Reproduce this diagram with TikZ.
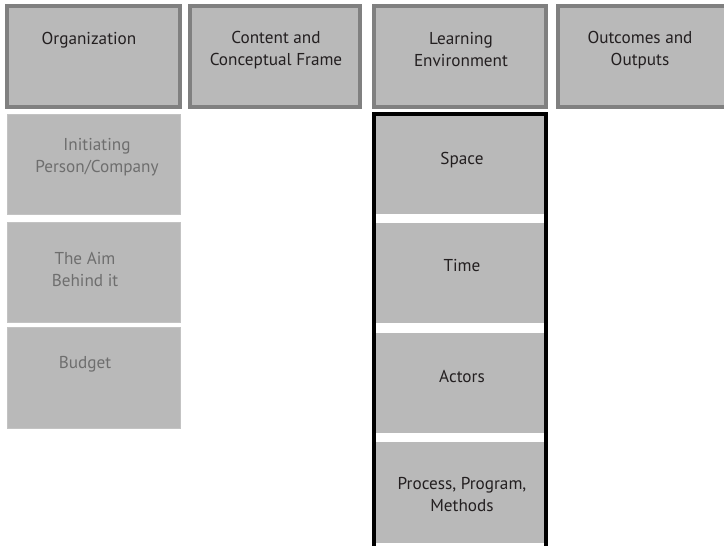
\documentclass[tikz,border=0pt]{standalone}
\usepackage{fontspec}
\setmainfont{PT Sans}
\definecolor{boxfill}{HTML}{B9B9B9}
\definecolor{boxedge}{HTML}{808080}
\definecolor{darktext}{HTML}{231F20}
\definecolor{lighttext}{HTML}{6E6E6E}
\tikzset{
  headbox/.style={fill=boxfill, draw=boxedge, line width=4pt},
  subbox/.style={fill=boxfill, draw=boxfill!85!white, line width=0.6pt},
  envbox/.style={fill=boxfill},
  frame/.style={draw=black, line width=4pt},
  dtext/.style={text=darktext, font=\fontsize{17.2}{22}\selectfont, align=center, inner sep=0pt},
  ltext/.style={text=lighttext, font=\fontsize{17.2}{22}\selectfont, align=center, inner sep=0pt}
}
\begin{document}
\begin{tikzpicture}[x=1pt,y=-1pt]
\useasboundingbox (0,0) rectangle (724,546);
\begin{scope}
\clip (0,0) rectangle (724,546);
% header boxes
\path[headbox] (7,6) rectangle (180,107);
\path[headbox] (190,6) rectangle (360,107);
\path[headbox] (374,6) rectangle (546,107);
\path[headbox] (558,6) rectangle (728,107);
\node[dtext] (org) at (89,40) {Organization};
\node[dtext] (cont) at (276,50) {Content and\\Conceptual Frame};
\node[dtext] (learn) at (461,50) {Learning\\Environment};
\node[dtext] (out) at (640,50) {Outcomes and\\Outputs};
% organization column
\path[subbox] (7,114) rectangle (180,214);
\path[subbox] (7,222) rectangle (180,322);
\path[subbox] (7,327) rectangle (180,428);
\node[ltext] (init) at (97,157) {Initiating\\Person/Company};
\node[ltext] (aim) at (85,269) {The Aim\\Behind it};
\node[ltext] (budget) at (85,364) {Budget};
% learning environment column
\path[envbox] (376,115) rectangle (544,214);
\path[envbox] (376,223) rectangle (544,323);
\path[envbox] (376,333) rectangle (544,433);
\path[envbox] (376,442) rectangle (544,543);
\path[envbox] (376,546) rectangle (544,560);
\draw[frame] (374,560) -- (374,114) -- (546,114) -- (546,560);
\node[dtext] (space) at (462,160) {Space};
\node[dtext] (time) at (462,266) {Time};
\node[dtext] (actors) at (462,376) {Actors};
\node[dtext] (proc) at (462,495) {Process, Program,\\Methods};
\end{scope}
\end{tikzpicture}
\end{document}
